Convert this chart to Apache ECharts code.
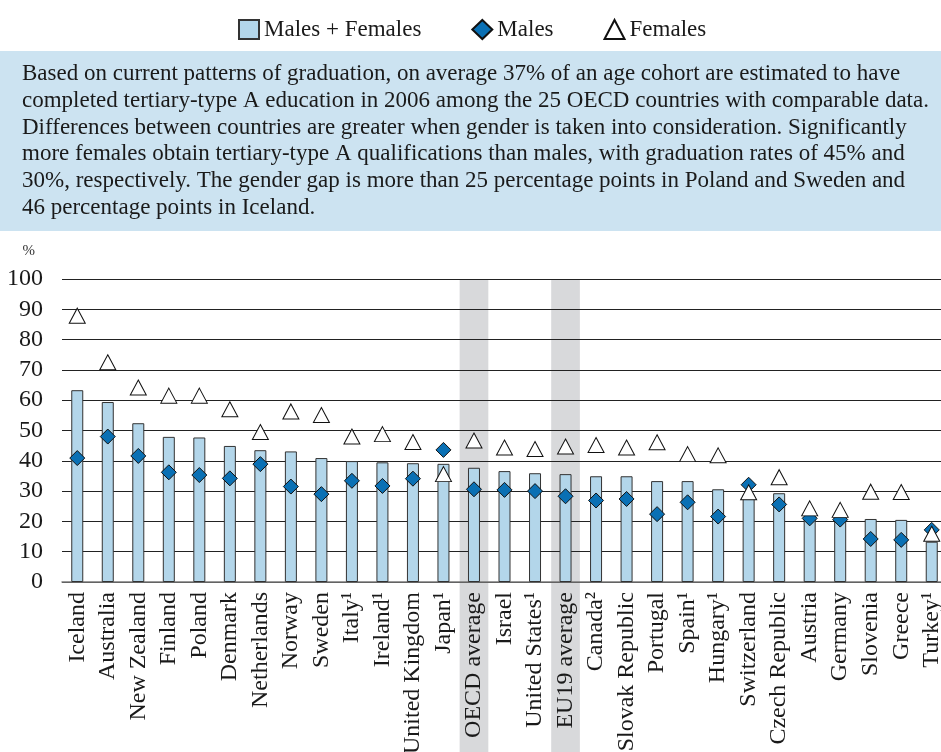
<!DOCTYPE html>
<html>
<head>
<meta charset="utf-8">
<script src="https://cdn.jsdelivr.net/npm/echarts@6/dist/echarts.min.js"></script>
<style>
  html, body { margin: 0; padding: 0; background: #fff; }
  #main { width: 941px; height: 752px; }
</style>
</head>
<body>
<div id="main"></div>
<script>
  // countries, ordered as in the chart
  const categories = ['Iceland', 'Australia', 'New Zealand', 'Finland', 'Poland', 'Denmark', 'Netherlands',
    'Norway', 'Sweden', 'Italy\u00b9', 'Ireland\u00b9', 'United Kingdom', 'Japan\u00b9', 'OECD average',
    'Israel', 'United States\u00b9', 'EU19 average', 'Canada\u00b2', 'Slovak Republic', 'Portugal',
    'Spain\u00b9', 'Hungary\u00b9', 'Switzerland', 'Czech Republic', 'Austria', 'Germany', 'Slovenia',
    'Greece', 'Turkey\u00b9']
  const total = [63.3, 59.4, 52.4, 47.9, 47.7, 44.9, 43.5, 43.1, 40.9, 39.9, 39.5, 39.2, 39.0, 37.7,
    36.6, 35.9, 35.6, 34.9, 34.9, 33.3, 33.3, 30.6, 28.8, 29.3, 21.6, 21.2, 20.8, 20.5, 13.3]
  const males = [40.9, 48.0, 41.6, 36.2, 35.3, 34.2, 38.9, 31.5, 29.0, 33.4, 31.7, 34.1, 43.6, 30.6,
    30.4, 30.0, 28.3, 26.9, 27.4, 22.4, 26.3, 21.6, 32.1, 25.6, 21.0, 20.6, 14.2, 13.9, 17.2]
  const females = [87.9, 72.5, 64.2, 61.5, 61.5, 57.0, 49.5, 56.3, 55.1, 48.0, 48.8, 46.2, 35.6, 46.7,
    44.4, 43.9, 44.7, 45.2, 44.4, 46.1, 42.2, 41.8, 29.6, 34.6, 24.3, 23.8, 29.8, 29.7, 15.9]
  const averages = ['OECD average', 'EU19 average']
  const boxText = [
    'Based on current patterns of graduation, on average 37% of an age cohort are estimated to have',
    'completed tertiary-type A education in 2006 among the 25 OECD countries with comparable data.',
    'Differences between countries are greater when gender is taken into consideration. Significantly',
    'more females obtain tertiary-type A qualifications than males, with graduation rates of 45% and',
    '30%, respectively. The gender gap is more than 25 percentage points in Poland and Sweden and',
    '46 percentage points in Iceland.'
  ]

  const font = 'Liberation Serif'
  const chart = echarts.init(document.getElementById('main'))
  const option = {
    animation: false,
    textStyle: { fontFamily: font, color: '#1a1a1a' },
    title: {
      text: boxText.join('\n'),
      left: 22,
      top: 61,
      padding: 0,
      textStyle: { fontFamily: font, fontSize: 23, lineHeight: 26.7, fontWeight: 'normal', color: '#1a1a1a' }
    },
    legend: {
      top: 18,
      left: 238,
      padding: 0,
      itemWidth: 20,
      itemHeight: 19,
      itemGap: 50,
      textStyle: { fontFamily: font, fontSize: 23, color: '#1a1a1a' },
      data: [
        { name: 'Males + Females', icon: 'rect' },
        { name: 'Males', icon: 'diamond' },
        { name: 'Females', icon: 'triangle' }
      ]
    },
    grid: { left: 62, width: 885, top: 279, bottom: 170, containLabel: false, outerBoundsMode: 'none' },
    xAxis: {
      type: 'category',
      data: categories,
      axisTick: { show: false },
      axisLine: { lineStyle: { color: '#7a7a7a', width: 1.5 } },
      axisLabel: { rotate: 90, interval: 0, fontSize: 24, margin: 10, color: '#1a1a1a', fontFamily: font }
    },
    yAxis: {
      type: 'value',
      min: 0,
      max: 100,
      interval: 10,
      name: '%',
      nameLocation: 'end',
      nameGap: 20,
      nameTextStyle: { fontSize: 15, align: 'right', padding: [0, 27, 0, 0], color: '#333', fontFamily: font },
      axisLine: { show: false },
      axisTick: { show: false },
      axisLabel: { fontSize: 24, margin: 19, color: '#1a1a1a', fontFamily: font },
      splitLine: { lineStyle: { color: '#222', width: 1 } }
    },
    series: [
      {
        name: 'Males + Females',
        type: 'bar',
        barWidth: 12,
        data: total,
        itemStyle: { color: '#b3d6ea', borderColor: '#333', borderWidth: 1 }
      },
      {
        name: 'Males',
        type: 'scatter',
        symbol: 'diamond',
        symbolSize: 15,
        data: males,
        z: 3,
        itemStyle: { color: '#0a70b4', borderColor: '#111', borderWidth: 1, opacity: 1 }
      },
      {
        name: 'Females',
        type: 'scatter',
        symbol: 'triangle',
        symbolSize: [16, 15],
        data: females,
        z: 4,
        itemStyle: { color: '#fff', borderColor: '#111', borderWidth: 1, opacity: 1 }
      }
    ]
  }
  chart.setOption(option)

  // grey bands behind the two averages, placed through the axis scales
  const yTop = chart.convertToPixel({ yAxisIndex: 0 }, 100)
  const step = chart.convertToPixel({ xAxisIndex: 0 }, categories[1]) - chart.convertToPixel({ xAxisIndex: 0 }, categories[0])
  const bands = averages.map(function (c) {
    const cx = chart.convertToPixel({ xAxisIndex: 0 }, c)
    return {
      type: 'rect',
      z: -1,
      silent: true,
      shape: { x: cx - step * 0.47, y: yTop, width: step * 0.94, height: 752 - yTop },
      style: { fill: '#d8d9db' }
    }
  })
  chart.setOption({
    graphic: [
      { type: 'rect', z: -2, silent: true, shape: { x: 0, y: 51, width: 941, height: 180 }, style: { fill: '#cce3f1' } }
    ].concat(bands)
  })
</script>
</body>
</html>
